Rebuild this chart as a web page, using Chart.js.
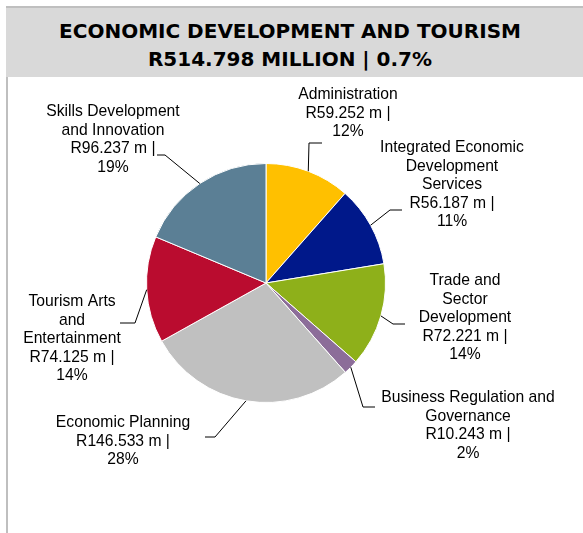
<!DOCTYPE html>
<html>
<head>
<meta charset="utf-8">
<script src="https://cdn.jsdelivr.net/npm/chart.js@4"></script>
<style>
    body { margin: 0; background: #fff; }
    .frame {
        position: relative;
        width: 583px;
        height: 533px;
        overflow: hidden;
    }
    .edge {
        position: absolute;
        left: 6px;
        top: 6px;
        width: 2px;
        height: 527px;
        background: #bfbfbf;
    }
    .heading {
        position: absolute;
        left: 6px;
        top: 6px;
        width: 577px;
        height: 71px;
        border-top: 2px solid #bfbfbf;
        box-sizing: border-box;
        background: #d9d9d9;
        text-align: center;
        font-family: "DejaVu Sans", sans-serif;
        font-weight: bold;
        font-size: 20px;
        line-height: 28px;
        color: #000;
        padding-top: 9px;
        padding-right: 9px;
    }
    canvas { position: absolute; left: 0; top: 0; }
</style>
</head>
<body>
<div class="frame">
    <div class="edge"></div>
    <div class="heading">ECONOMIC DEVELOPMENT AND TOURISM<br>R514.798 MILLION | 0.7%</div>
    <canvas id="chart" width="583" height="533"></canvas>
</div>
<script>
// programmes, clockwise from 12 o'clock
const programmes = [
    ["Administration"],
    ["Integrated Economic", "Development", "Services"],
    ["Trade and", "Sector", "Development"],
    ["Business Regulation and", "Governance"],
    ["Economic Planning"],
    ["Tourism Arts", "and", "Entertainment"],
    ["Skills Development", "and Innovation"]
];
const amounts = [59.252, 56.187, 72.221, 10.243, 146.533, 74.125, 96.237];
const colours = ["#ffc000", "#00188a", "#8eb01a", "#8c6d99", "#c0c0c0", "#ba0c2f", "#5b7f95"];

// where each callout sits: elbow of the leader, end of the leader, text centre and first line
const callouts = [
    { elbow: [309, 143], end: [322, 143], cx: 348, top: 95 },
    { elbow: [390, 210], end: [402, 210], cx: 452, top: 148 },
    { elbow: [393, 324], end: [405, 324], cx: 465, top: 281 },
    { elbow: [363, 407], end: [375, 407], cx: 468, top: 398 },
    { elbow: [215, 437], end: [205, 437], cx: 123, top: 423 },
    { elbow: [135, 323], end: [120, 323], cx: 72, top: 302 },
    { elbow: [165, 155], end: [157, 155], cx: 113, top: 112 }
];

const total = amounts.reduce((a, b) => a + b, 0);

const calloutPlugin = {
    id: "callouts",
    afterDraw(chart) {
        const ctx = chart.ctx;
        const arcs = chart.getDatasetMeta(0).data;
        ctx.save();
        ctx.font = "15.7px 'Liberation Sans', Arial, sans-serif";
        ctx.textAlign = "center";
        ctx.textBaseline = "middle";
        arcs.forEach((arc, i) => {
            const c = callouts[i];
            const mid = (arc.startAngle + arc.endAngle) / 2;
            const sx = arc.x + Math.cos(mid) * arc.outerRadius;
            const sy = arc.y + Math.sin(mid) * arc.outerRadius;

            ctx.strokeStyle = "#000";
            ctx.lineWidth = 1;
            ctx.beginPath();
            ctx.moveTo(sx, sy);
            ctx.lineTo(c.elbow[0], c.elbow[1]);
            ctx.lineTo(c.end[0], c.end[1]);
            ctx.stroke();

            const pct = Math.round(amounts[i] / total * 100);
            const lines = programmes[i].concat(["R" + amounts[i].toFixed(3) + " m |", pct + "%"]);
            ctx.fillStyle = "#000";
            lines.forEach((t, k) => ctx.fillText(t, c.cx, c.top + k * 18.5));
        });
        ctx.restore();
    }
};

new Chart(document.getElementById("chart"), {
    type: "pie",
    data: {
        labels: programmes,
        datasets: [{
            data: amounts,
            backgroundColor: colours,
            borderColor: "#ffffff",
            borderWidth: 1
        }]
    },
    options: {
        responsive: false,
        animation: false,
        layout: {
            padding: { left: 146, right: 197, top: 163, bottom: 130 }
        },
        plugins: {
            legend: { display: false },
            tooltip: { enabled: false }
        }
    },
    plugins: [calloutPlugin]
});
</script>
</body>
</html>
